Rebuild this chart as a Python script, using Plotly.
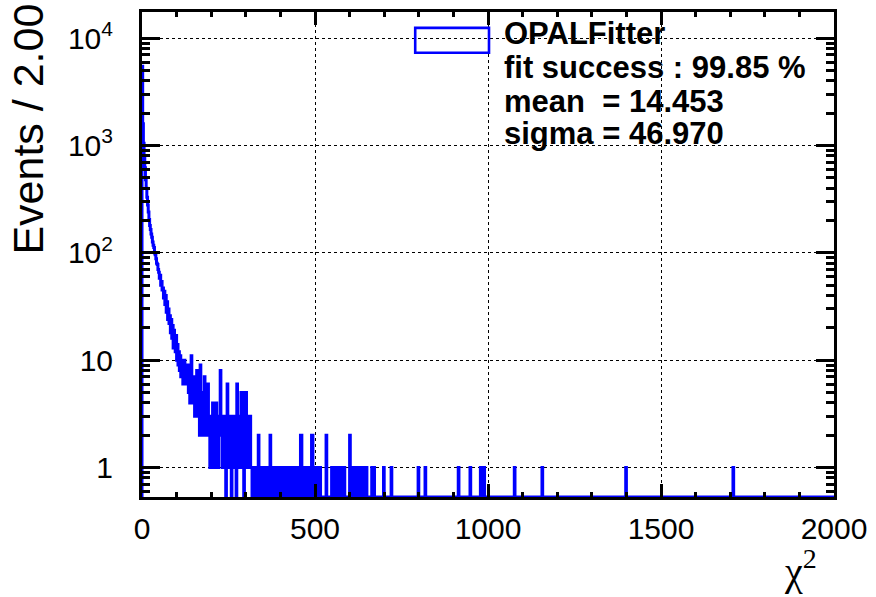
import numpy as np
import plotly.graph_objects as go

# ---------------- data ----------------
bin_width = 2.0
x_min, x_max = 0.0, 2000.0

# counts of the consecutive bins starting at chi2 = 0 (bin width 2)
dense_counts = [
    5500, 1600, 1050, 800, 620, 480, 400, 330, 280, 240,
    205, 180, 165, 150, 140, 126, 118, 112, 100, 96,
    88, 80, 78, 70, 66, 58, 62, 50, 54, 45,
    47, 38, 44, 33, 40, 28, 35, 24, 30, 22,
    26, 18, 24, 16, 21, 13, 19, 15, 12, 17,
    10, 14, 9, 12, 8, 11, 7, 10, 9, 6,
    8, 10, 7, 6, 8, 6, 9, 5, 7, 4,
    6, 11, 5, 4, 7, 5, 3, 6, 4, 8,
    3, 5, 4, 2, 9, 3, 5, 2, 4, 3,
    7, 2, 4, 3, 2, 6, 2, 3, 1, 2,
    3, 2, 4, 1, 2, 3, 1, 4, 2, 3,
    1, 2, 3, 8, 2, 3, 1, 3, 2, 3,
    2, 0, 3, 6, 3, 2, 1, 3, 3, 0,
    2, 3, 1, 2, 3, 1, 0, 6, 3, 1,
    3, 2, 1, 5, 2, 5, 3, 0, 5, 2,
    5, 1, 3, 2, 3, 1, 3, 1, 1, 0,
    1, 0, 1, 0, 1, 1, 0, 1, 2, 0,
    1, 1, 0, 1, 0, 0, 1, 0, 1, 1,
    0, 1, 0, 1, 1, 2, 0, 1, 0, 1,
    1, 0, 1, 0, 1, 0, 0, 1, 1, 0,
    1, 0, 1, 1, 0, 0, 1, 0, 1, 0,
    1, 1, 0, 1, 0, 1, 0, 0, 1, 0,
    1, 0, 1, 1, 0, 1, 0, 1, 0, 2,
    2, 1, 0, 1, 1, 0, 1, 0, 1, 1,
    0, 1, 1, 0, 1, 2, 2, 1, 0, 0,
    0, 1, 0, 1, 1, 0, 1, 1, 0, 0,
    0, 0, 0, 0, 0, 0, 2, 0, 0, 0,
    0, 0, 0, 0, 1, 0, 1, 1, 0, 1,
    0, 1, 1, 0, 1, 0, 0, 1, 0, 1,
    1, 0, 1, 0, 0, 0, 0, 0, 0, 0,
    2, 0, 0, 0, 1, 0, 1, 1, 0, 1,
    0, 1, 0, 1, 1, 0, 1, 0, 1, 1,
    0, 1, 0, 1, 1, 0, 0, 0, 0, 0,
    0, 0, 1, 0, 0, 1, 0, 0, 0, 0,
    0, 0, 0, 0, 0, 0, 0, 0, 0, 1,
]
# isolated bins in the far tail (lower bin edge, count)
tail_bin_low_edges = [720, 798, 818, 914, 948, 978, 988, 1076, 1156, 1398, 1708]
tail_counts = [1, 1, 1, 1, 1, 1, 1, 1, 1, 1, 1]

x_tick_vals = [0, 500, 1000, 1500, 2000]
y_tick_vals = [1, 10, 100, 1000, 10000]
y_tick_text = ["1", "10", "10<sup>2</sup>", "10<sup>3</sup>", "10<sup>4</sup>"]
legend_lines = ["OPALFitter", "fit success : 99.85 %",
                "mean\u00a0\u00a0= 14.453", "sigma = 46.970"]
y_title = "Events / 2.00"
x_title = "\u03c7<sup>2</sup>"

y_min, y_max = 0.531, 17570.0

# ---------------- build histogram ----------------
n_bins = int(round((x_max - x_min) / bin_width))
counts = np.zeros(n_bins)
counts[:len(dense_counts)] = dense_counts
for e, c in zip(tail_bin_low_edges, tail_counts):
    counts[int(round((e - x_min) / bin_width))] = c
edges = x_min + bin_width * np.arange(n_bins + 1)
plot_y = np.where(counts > 0, counts, y_min)
xs = [edges[0]] + list(edges[:-1]) + [edges[-1]]
ys = [y_min] + list(plot_y) + [y_min]

# ---------------- layout helpers ----------------
W, H = 876, 597
ML, MR, MT, MB = 142, 40, 9, 100


def px(x):
    return (x - ML) / (W - ML - MR)


def py(y):
    return 1 - (y - MT) / (H - MT - MB)


FONT = "Liberation Sans, Arial, Helvetica, sans-serif"

fig = go.Figure()
fig.add_trace(go.Scatter(
    x=xs, y=ys, mode="lines", line=dict(color="#0000ff", width=3, shape="hv"),
    showlegend=False, hoverinfo="skip"))

axis_common = dict(
    showline=True, linecolor="black", linewidth=3, mirror="allticks",
    ticks="inside", tickcolor="black", tickwidth=2.5,
    showgrid=True, gridcolor="black", gridwidth=1, griddash="dot",
    zeroline=False, tickfont=dict(family=FONT, size=30, color="black"),
)

fig.update_layout(
    width=W, height=H, margin=dict(l=ML, r=MR, t=MT, b=MB),
    paper_bgcolor="white", plot_bgcolor="white",
    xaxis=dict(range=[x_min, x_max], tickmode="array", tickvals=x_tick_vals,
               ticklen=13, ticklabelstandoff=3,
               minor=dict(ticks="inside", ticklen=5, dtick=100, tickcolor="black",
                          tickwidth=2.5, showgrid=False),
               **axis_common),
    yaxis=dict(type="log", range=[np.log10(y_min), np.log10(y_max)],
               tickmode="array", tickvals=y_tick_vals, ticktext=y_tick_text,
               ticklen=18, ticklabelstandoff=20,
               minor=dict(ticks="inside", ticklen=8, dtick="D1", tickcolor="black",
                          tickwidth=2.5, showgrid=False),
               **axis_common),
)

# axis titles
fig.add_annotation(text=y_title, textangle=-90, xref="paper", yref="paper",
                   x=px(28), y=py(127), xanchor="center", yanchor="middle",
                   showarrow=False, font=dict(family=FONT, size=43, color="black"))
fig.add_annotation(text=x_title, xref="paper", yref="paper",
                   x=px(821), y=py(569), xanchor="right", yanchor="middle",
                   showarrow=False, font=dict(family="Liberation Serif, DejaVu Serif, serif",
                                              size=40, color="black"))

# legend box
fig.add_shape(type="rect", xref="paper", yref="paper",
              x0=px(416), x1=px(490), y0=py(50), y1=py(25),
              line=dict(color="#0000ff", width=2.6), fillcolor="rgba(0,0,0,0)")
legend_y = [31, 65, 99, 131]
for txt, yy in zip(legend_lines, legend_y):
    fig.add_annotation(text="<b>" + txt + "</b>", xref="paper", yref="paper",
                       x=px(503), y=py(yy), xanchor="left", yanchor="middle",
                       showarrow=False, font=dict(family=FONT, size=31, color="black"))

fig.write_html("out.html")
